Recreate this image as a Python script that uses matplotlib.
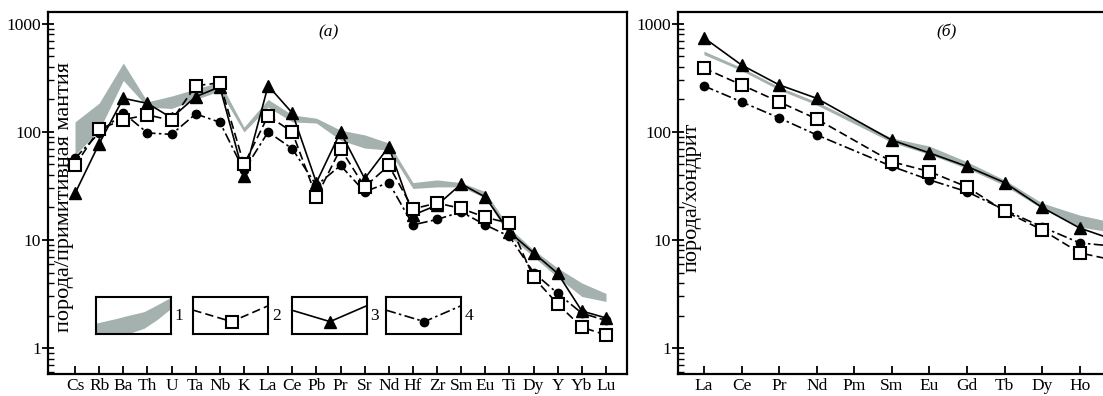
import numpy as np
import matplotlib
matplotlib.use('Agg')
import matplotlib.pyplot as plt
from matplotlib.ticker import NullFormatter

plt.rcParams['font.family'] = ['Liberation Serif', 'DejaVu Serif']

# --- panel (a): primitive-mantle normalised spider diagram ---
spider_elems = ['Cs', 'Rb', 'Ba', 'Th', 'U', 'Ta', 'Nb', 'K', 'La', 'Ce', 'Pb', 'Pr',
                'Sr', 'Nd', 'Hf', 'Zr', 'Sm', 'Eu', 'Ti', 'Dy', 'Y', 'Yb', 'Lu']
field_hi = [124, 185, 435, 190, 215, 250, 290, 111, 200, 144, 134, 104,
            94, 79, 34, 36, 34, 28, 12.9, 8.1, 5.5, 4.0, 3.2]
field_lo = [61, 104, 300, 170, 165, 200, 240, 100, 170, 124, 121, 84,
            71, 68, 30, 31, 31, 24.5, 10.8, 7.0, 4.5, 3.0, 2.7]
sq_a = [49, 106, 130, 144, 128, 268, 285, 50, 141, 100, 25, 70,
        31, 49, 19.4, 22, 19.6, 16.2, 14.3, 4.5, 2.55, 1.56, 1.32]
tri_a = [27, 78, 205, 184, 135, 212, 262, 39, 268, 150, 34, 100,
         37, 73, 17, 21, 33, 25, 11.8, 7.6, 4.9, 2.2, 1.9]
dot_a = [57, 98, 150, 98, 95, 147, 123, 44, 100, 70, 32, 49,
         28, 34, 13.8, 15.5, 18.2, 13.8, 10.8, 5.0, 3.2, 2.1, 1.8]

# --- panel (б): chondrite-normalised REE (figure is cropped after Ho) ---
ree_labels = ['La', 'Ce', 'Pr', 'Nd', 'Pm', 'Sm', 'Eu', 'Gd', 'Tb', 'Dy', 'Ho']
ree_elems = ['La', 'Ce', 'Pr', 'Nd', 'Sm', 'Eu', 'Gd', 'Tb', 'Dy', 'Ho', 'Er']
ree_pos = [0, 1, 2, 3, 5, 6, 7, 8, 9, 10, 11]
field_hi_b = [560, 395, 262, 190, 88, 74, 53, 36, 22, 17, 14.3]
field_lo_b = [520, 370, 245, 178, 80, 62, 46, 32, 19.5, 13.2, 11.6]
sq_b = [390, 273, 190, 132, 53, 43, 31, 18.5, 12.4, 7.6, 6.4]
tri_b = [745, 417, 273, 205, 84, 64, 48, 34, 20, 12.9, 9.8]
dot_b = [267, 190, 135, 94, 48, 36, 28, 19, 13.2, 9.4, 8.7]

GRAY = '#a4b1ae'
DASH = (0, (5, 2.5))
DASHDOT = (0, (6, 2, 1.5, 2))
FS = 12.5
FS_LABEL = 16

W, H = 1103, 396
fig = plt.figure(figsize=(W / 100, H / 100), dpi=100)
ax1 = fig.add_axes([48 / W, 22 / H, 579 / W, 362 / H])
ax2 = fig.add_axes([678 / W, 22 / H, 578 / W, 362 / H])


def style_axes(ax, labels, xlim):
    ax.set_yscale('log')
    ax.set_ylim(0.575, 1290)
    ax.set_xlim(*xlim)
    ax.set_xticks(range(len(labels)))
    ax.set_xticklabels(labels)
    ax.set_yticks([1, 10, 100, 1000])
    ax.set_yticklabels(['1', '10', '100', '1000'])
    ax.yaxis.set_minor_formatter(NullFormatter())
    ax.tick_params(axis='x', direction='in', length=6, width=1.3, pad=3, labelsize=FS)
    ax.tick_params(axis='y', which='major', direction='inout', length=8, width=1.3,
                   pad=1, labelsize=FS)
    ax.tick_params(axis='y', which='minor', direction='in', length=4, width=1)
    for s in ax.spines.values():
        s.set_linewidth(1.6)


def draw_series(ax, x, hi, lo, sq, tri, dot):
    ax.fill_between(x, lo, hi, color=GRAY, lw=0, zorder=1)
    ax.plot(x, dot, ls=DASHDOT, color='k', lw=1.2, marker='o', ms=6, zorder=3)
    ax.plot(x, tri, '-', color='k', lw=1.2, marker='^', ms=9, zorder=4)
    ax.plot(x, sq, ls=DASH, color='k', lw=1.2, marker='s', ms=8.5, mfc='white',
            mec='k', mew=1.5, zorder=5)


# panel (a)
style_axes(ax1, spider_elems, (-1.12, 22.87))
draw_series(ax1, np.arange(len(spider_elems)), field_hi, field_lo, sq_a, tri_a, dot_a)
ax1.text(0.485, 0.945, '(a)', transform=ax1.transAxes, style='italic',
         ha='center', va='center', fontsize=FS)
ax1.text(0.028, 0.489, 'порода/примитивная мантия', transform=ax1.transAxes,
         rotation=90, ha='center', va='center', fontsize=FS_LABEL)

# panel (б)
style_axes(ax2, ree_labels, (-0.69, 14.69))
draw_series(ax2, ree_pos, field_hi_b, field_lo_b, sq_b, tri_b, dot_b)
ax2.text(0.465, 0.945, '(б)', transform=ax2.transAxes, style='italic',
         ha='center', va='center', fontsize=FS)
ax2.text(0.024, 0.489, 'порода/хондрит', transform=ax2.transAxes,
         rotation=90, ha='center', va='center', fontsize=FS_LABEL)

# legend boxes inside panel (a)
box_x0 = [0.083, 0.251, 0.421, 0.584]
box_y0, box_w, box_h = 0.110, 0.1295, 0.102
band_x = [0, 0.28, 0.41, 0.64, 0.81, 1.0]
band_top = [0.30, 0.43, 0.50, 0.61, 0.79, 1.0]
band_bot = [0.0, 0.0, 0.0, 0.16, 0.39, 0.70]
vee_x = [0, 0.51, 1.0]
vee_y = [0.65, 0.34, 0.77]
glyphs = [None,
          dict(ls=DASH, marker='s', ms=8.5, mfc='white', mec='k', mew=1.5),
          dict(ls='-', marker='^', ms=9),
          dict(ls=DASHDOT, marker='o', ms=6)]
for i, x0 in enumerate(box_x0):
    lax = ax1.inset_axes([x0, box_y0, box_w, box_h])
    lax.set_xlim(0, 1)
    lax.set_ylim(0, 1)
    lax.set_xticks([])
    lax.set_yticks([])
    for s in lax.spines.values():
        s.set_linewidth(1.5)
    if glyphs[i] is None:
        lax.fill_between(band_x, band_bot, band_top, color=GRAY, lw=0)
    else:
        lax.plot(vee_x, vee_y, color='k', lw=1.2, markevery=[1], clip_on=False,
                 **glyphs[i])
    ax1.text(x0 + box_w + 0.006, box_y0 + box_h / 2, str(i + 1),
             transform=ax1.transAxes, ha='left', va='center', fontsize=FS)

fig.savefig('out.png', dpi=100)
